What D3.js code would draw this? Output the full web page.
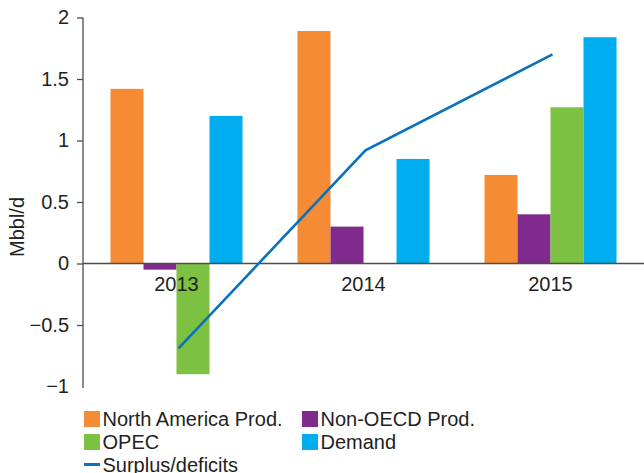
<!DOCTYPE html>
<html>
<head>
<meta charset="utf-8">
<script src="https://cdn.jsdelivr.net/npm/d3@7/dist/d3.min.js"></script>
<style>
  html, body { margin: 0; padding: 0; background: #fff; }
  svg { display: block; font-family: "Liberation Sans", Arial, sans-serif; }
</style>
</head>
<body>
<svg id="chart" width="644" height="473"></svg>
<script>
// Supply/demand changes by year (Mbbl/d)
const years = ["2013", "2014", "2015"];
const seriesNames = ["North America Prod.", "Non-OECD Prod.", "OPEC", "Demand"];
const seriesColors = ["#F58B34", "#7F2A8C", "#7DC142", "#00ADEF"];
const northAmerica = [1.42, 1.89, 0.72];
const nonOECD = [-0.05, 0.30, 0.40];
const opec = [-0.90, 0.00, 1.27];
const demand = [1.20, 0.85, 1.84];
const surplus = [-0.69, 0.92, 1.70];
const lineName = "Surplus/deficits";
const lineColor = "#0A72BD";
const yTicks = [-1, -0.5, 0, 0.5, 1, 1.5, 2];

const seriesValues = [northAmerica, nonOECD, opec, demand];

const svg = d3.select("#chart");
const textColor = "#231F20";
const axisColor = "#4D4D4D";
const fontSize = 20;

const x = d3.scaleBand().domain(years).range([83, 644])
  .paddingInner(0.294).paddingOuter(0.147);
const xInner = d3.scaleBand().domain(d3.range(seriesNames.length))
  .range([0, x.bandwidth()]).padding(0);
const y = d3.scaleLinear().domain([-1, 2]).range([386.5, 17.5]);

// Bars
const groups = svg.append("g").selectAll("g")
  .data(years)
  .join("g")
  .attr("transform", d => `translate(${x(d)},0)`);

groups.selectAll("rect")
  .data((yr, i) => seriesValues.map((vals, s) => ({ s, v: vals[i] })))
  .join("rect")
  .attr("x", d => xInner(d.s))
  .attr("width", xInner.bandwidth())
  .attr("y", d => y(Math.max(0, d.v)))
  .attr("height", d => Math.abs(y(d.v) - y(0)))
  .attr("fill", d => seriesColors[d.s]);

// Y axis
const yAxis = svg.append("g")
  .attr("transform", "translate(83,0)")
  .call(d3.axisLeft(y).tickValues(yTicks)
    .tickFormat(d => d < 0 ? "\u2212" + Math.abs(d) : String(d))
    .tickSize(6).tickPadding(8));
yAxis.select(".domain").attr("stroke", axisColor).attr("stroke-width", 1.3)
  .attr("d", `M0,${y(2)}V${y(-1) + 1.5}`);
yAxis.selectAll(".tick line").attr("stroke", axisColor).attr("stroke-width", 1.3);
yAxis.selectAll(".tick").filter(d => d === -1).select("line").remove();
yAxis.selectAll(".tick text")
  .attr("fill", textColor).style("font-size", fontSize + "px");

// Zero line across the plot
svg.append("line")
  .attr("x1", 83).attr("x2", 644)
  .attr("y1", y(0)).attr("y2", y(0))
  .attr("stroke", axisColor).attr("stroke-width", 1.3);

// Year labels under the zero line
svg.append("g").selectAll("text")
  .data(years)
  .join("text")
  .attr("x", d => x(d) + x.bandwidth() / 2)
  .attr("y", y(0) + 27)
  .attr("text-anchor", "middle")
  .attr("fill", textColor)
  .style("font-size", fontSize + "px")
  .text(d => d);

// Surplus / deficits line
const line = d3.line()
  .x((d, i) => x(years[i]) + x.bandwidth() / 2 + 2)
  .y(d => y(d));
svg.append("path")
  .datum(surplus)
  .attr("d", line)
  .attr("fill", "none")
  .attr("stroke", lineColor)
  .attr("stroke-width", 2.6);

// Y axis title
svg.append("text")
  .attr("transform", "translate(24,227) rotate(-90)")
  .attr("text-anchor", "middle")
  .attr("fill", textColor)
  .style("font-size", fontSize + "px")
  .text("Mbbl/d");

// Legend
const legendItems = [
  { name: seriesNames[0], color: seriesColors[0], type: "box", x: 84, y: 419 },
  { name: seriesNames[1], color: seriesColors[1], type: "box", x: 302, y: 419 },
  { name: seriesNames[2], color: seriesColors[2], type: "box", x: 84, y: 442 },
  { name: seriesNames[3], color: seriesColors[3], type: "box", x: 302, y: 442 },
  { name: lineName, color: lineColor, type: "line", x: 84, y: 464.5 }
];
const legend = svg.append("g").selectAll("g")
  .data(legendItems)
  .join("g")
  .attr("transform", d => `translate(${d.x},${d.y})`);
legend.filter(d => d.type === "box").append("rect")
  .attr("x", 0).attr("y", -8).attr("width", 16).attr("height", 16)
  .attr("fill", d => d.color);
legend.filter(d => d.type === "line").append("rect")
  .attr("x", 0).attr("y", -1.5).attr("width", 16).attr("height", 3)
  .attr("fill", d => d.color);
legend.append("text")
  .attr("x", 18.5)
  .attr("y", 7)
  .attr("fill", textColor)
  .style("font-size", fontSize + "px")
  .text(d => d.name);
</script>
</body>
</html>
